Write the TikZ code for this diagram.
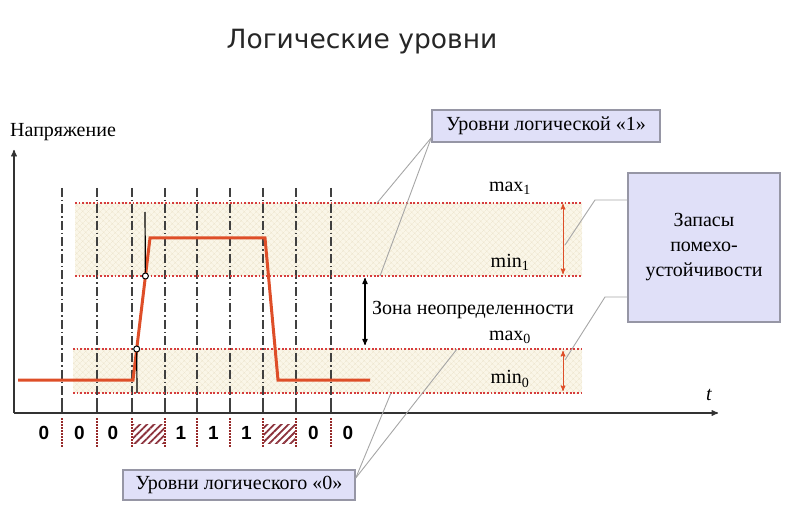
\documentclass[tikz,border=0pt]{standalone}
\usepackage{fontspec}
\setmainfont{Liberation Serif}
\setsansfont{Liberation Sans}
\newfontfamily\titlefont{DejaVu Sans}
\usepackage{xcolor}
\usepackage{tikz}
\usetikzlibrary{arrows,patterns.meta}

\definecolor{sigred}{RGB}{222,78,40}
\definecolor{lvlred}{RGB}{214,60,60}
\definecolor{bandbg}{RGB}{250,246,232}
\definecolor{bandhatch}{RGB}{236,228,204}
\definecolor{boxbg}{RGB}{224,224,248}
\definecolor{boxline}{RGB}{150,150,165}
\definecolor{hatchred}{RGB}{140,50,60}

\begin{document}
\begin{tikzpicture}[x=1pt,y=-1pt,>=stealth',
    txt/.style={font=\fontsize{20}{24}\selectfont,inner sep=0pt},
    label box/.style={draw=boxline,line width=1.5pt,fill=boxbg,font=\fontsize{20}{25}\selectfont,align=center},
    band/.style={preaction={fill=bandbg},pattern={Hatch[angle=45,distance=4pt,line width=0.4pt]},pattern color=bandhatch},
    level/.style={lvlred,line width=1.8pt,dash pattern=on 1.8pt off 1.8pt},
    grid line/.style={black!75,line width=1.4pt,dash pattern=on 9pt off 3pt on 1.5pt off 3pt},
    leader/.style={gray!70,line width=0.9pt},
    signal/.style={sigred,line width=3pt,line join=miter},
    bit/.style={font=\sffamily\bfseries\fontsize{19}{19}\selectfont}]
  \useasboundingbox (0,0) rectangle (806,529);

  \node[font=\titlefont\fontsize{26.5}{30}\selectfont,text=black!85] (title) at (362,42) {Логические уровни};

  % bands of levels
  \fill[band] (75,203) rectangle (582,276);
  \fill[band] (73,349) rectangle (582,393);
  \coordinate (max1) at (75,203); \coordinate (max1r) at (582,203);
  \coordinate (min1) at (75,276); \coordinate (min1r) at (582,276);
  \coordinate (max0) at (73,349); \coordinate (max0r) at (582,349);
  \coordinate (min0) at (73,393); \coordinate (min0r) at (582,393);

  % time slots
  \foreach \x in {62,97,132,165,197,230,263,296,331} {
    \draw[grid line] (\x,188) -- (\x,398);
    \draw[black!75,line width=1.4pt] (\x,398) -- (\x,413);
    \draw[lvlred!70!black,line width=1.2pt,dash pattern=on 1.5pt off 1.5pt] (\x,418) -- (\x,447);
  }

  \foreach \a/\b in {max1/max1r,min1/min1r,max0/max0r,min0/min0r}
    \draw[level] (\a) -- (\b);

  % axes
  \draw[->,line width=1.3pt,black!80] (14,413) -- (14,150);
  \draw[->,line width=1.3pt,black!80] (14,413) -- (718,413);
  \node[txt,anchor=west] (u) at (10,132) {Напряжение};
  \node[txt,font=\itshape\fontsize{20}{24}\selectfont] (t) at (709,395) {t};

  % signal
  \draw[signal] (18,380) -- (133,380) -- (150,238) -- (265,238) -- (278,380) -- (370,380);
  \coordinate (top1) at (145,212);
  \coordinate (bot0) at (137,393);
  \node[circle,draw,fill=white,line width=1pt,inner sep=0pt,minimum size=6pt] (c1) at (145.4,276) {};
  \node[circle,draw,fill=white,line width=1pt,inner sep=0pt,minimum size=6pt] (c0) at (136.7,349) {};
  \draw[line width=1.2pt] (top1) -- (c1);
  \draw[line width=1.2pt] (c0) -- (bot0);

  % level labels
  \node[txt] (lmax1) at (510,188) {max\textsubscript{1}};
  \node[txt] (lmin1) at (510,262) {min\textsubscript{1}};
  \node[txt] (lmax0) at (510,337) {max\textsubscript{0}};
  \node[txt] (lmin0) at (510,379) {min\textsubscript{0}};
  \node[txt,anchor=west] (zone) at (372,310) {Зона неопределенности};

  \draw[<->,line width=1.2pt] (365,278) -- (365,345);
  \draw[<->,sigred,line width=1pt] (563,204) -- (563,274);
  \draw[<->,sigred,line width=1pt] (563,351) -- (563,391);
  \coordinate (m1) at (565,245);
  \coordinate (m0) at (565,360);

  % bits
  \foreach \x/\v in {44/0,79.5/0,113/0,181/1,213.5/1,246.5/1,313.5/0,348/0}
    \node[bit] at (\x,433) {\v};
  \fill[pattern={Lines[angle=45,distance=5pt,line width=1.8pt]},pattern color=hatchred] (133,424) rectangle (164,443);
  \fill[pattern={Lines[angle=45,distance=5pt,line width=1.8pt]},pattern color=hatchred] (264,424) rectangle (295,443);

  % boxes
  \node[label box,minimum width=228pt,minimum height=32pt,inner sep=0pt] (box1) at (546,126) {Уровни логической «1»};
  \node[label box,minimum width=152pt,minimum height=149pt,inner sep=0pt] (box2) at (704,247.5) {Запасы\\помехо-\\устойчивости};
  \node[label box,minimum width=232pt,minimum height=30pt,inner sep=0pt] (box0) at (239,485) {Уровни логического «0»};

  \draw[leader] ([yshift=5pt]box1.south west) -- (377,203);
  \draw[leader] ([yshift=5pt]box1.south west) -- (380,276);
  \draw[leader] ([yshift=47.5pt]box2.west) -- (595,200) -- (m1);
  \draw[leader] ([yshift=-49.5pt]box2.west) -- (605,297) -- (m0);
  \draw[leader] ([yshift=7pt]box0.east) -- (457,349);
  \draw[leader] ([yshift=7pt]box0.east) -- (391,393);
\end{tikzpicture}
\end{document}
